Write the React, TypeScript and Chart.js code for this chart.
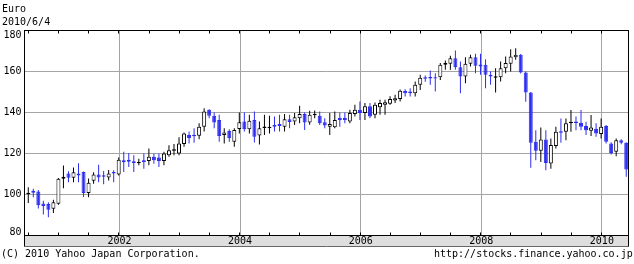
import React, { useEffect, useRef } from 'react';
import { Chart, registerables } from 'chart.js';

Chart.register(...registerables);

// ---- Data (monthly candles, EUR/JPY, June 2000 .. May 2010) ----
const firstYear = 2000;
const firstMonth = 6;

const opens = [
  100.3, 101.8, 101.5, 95.6, 95.4, 93.0, 95.5, 107.7, 110.3, 108.2,
  110.2, 111.0, 100.7, 106.7, 109.8, 109.4, 108.3, 111.0, 109.7, 116.7,
  117.0, 116.2, 115.2, 116.7, 116.4, 118.4, 118.0, 116.4, 119.2, 121.3,
  120.0, 124.6, 129.0, 129.2, 128.7, 133.1, 141.3, 138.4, 136.4, 129.0,
  131.0, 125.7, 132.0, 135.6, 131.8, 136.4, 128.8, 132.5, 132.3, 133.9,
  134.4, 133.1, 136.7, 135.6, 137.2, 139.3, 135.1, 138.6, 138.4, 135.2,
  133.1, 132.8, 137.5, 137.5, 135.6, 139.3, 141.3, 139.7, 143.0, 138.9,
  142.6, 143.8, 144.3, 145.9, 146.6, 150.5, 150.2, 149.4, 153.5, 157.2,
  157.3, 157.2, 157.2, 163.3, 163.8, 166.5, 162.1, 157.6, 163.8, 167.0,
  163.4, 163.3, 158.4, 157.0, 157.2, 161.6, 163.8, 167.0, 168.2, 159.5,
  149.7, 125.7, 121.3, 126.8, 115.1, 123.6, 130.9, 130.6, 134.7, 135.6,
  135.0, 133.4, 131.1, 132.1, 129.5, 133.4, 124.9, 120.8, 126.5, 125.2,
];
const highs = [
  103.5, 102.8, 102.2, 97.0, 96.2, 97.4, 108.0, 114.2, 111.3, 113.2,
  115.2, 111.2, 107.8, 110.8, 114.5, 111.5, 112.0, 111.8, 118.0, 120.8,
  120.3, 119.2, 117.5, 120.0, 122.5, 120.0, 120.0, 120.8, 124.0, 124.6,
  127.9, 130.2, 130.7, 132.3, 134.8, 142.1, 141.6, 140.0, 138.9, 132.3,
  131.8, 132.3, 140.0, 140.0, 138.9, 140.5, 135.6, 138.9, 138.4, 138.0,
  138.9, 139.3, 138.9, 139.7, 143.3, 140.0, 140.9, 141.0, 140.5, 137.2,
  139.7, 140.5, 140.0, 140.0, 141.3, 143.8, 145.4, 144.6, 144.6, 144.9,
  146.2, 146.2, 147.9, 148.7, 151.2, 151.3, 151.8, 155.1, 158.4, 158.0,
  160.5, 159.2, 164.1, 165.4, 167.7, 170.3, 164.9, 167.0, 168.2, 168.7,
  168.7, 166.0, 160.0, 161.6, 164.9, 167.3, 170.9, 171.4, 168.5, 160.0,
  150.0, 131.4, 132.7, 131.4, 127.3, 133.1, 137.1, 137.1, 141.2, 138.0,
  141.2, 135.5, 138.8, 134.7, 137.1, 133.9, 125.5, 127.3, 127.0, 125.5,
];
const lows = [
  95.8, 98.7, 93.2, 90.3, 88.9, 91.0, 95.0, 103.0, 106.0, 106.0,
  106.0, 98.8, 98.7, 105.2, 106.0, 105.0, 106.8, 106.0, 109.3, 111.0,
  113.4, 111.0, 114.3, 112.6, 114.3, 115.0, 113.4, 114.3, 118.4, 119.2,
  119.2, 123.3, 124.9, 125.2, 126.9, 130.7, 137.2, 132.3, 125.7, 124.9,
  125.7, 123.3, 129.8, 130.7, 129.8, 125.4, 124.4, 129.0, 129.8, 130.7,
  130.7, 130.7, 132.3, 133.9, 134.8, 131.5, 134.0, 137.2, 133.9, 132.3,
  129.0, 132.3, 133.1, 134.8, 134.8, 138.0, 136.4, 136.4, 137.2, 137.2,
  138.9, 138.9, 143.8, 144.6, 145.4, 147.8, 147.8, 147.8, 151.0, 155.0,
  153.5, 150.2, 155.9, 160.8, 160.8, 160.8, 149.4, 154.3, 162.5, 159.2,
  158.4, 151.8, 153.5, 149.7, 155.1, 159.2, 160.0, 165.7, 159.0, 145.3,
  113.1, 116.7, 115.9, 111.8, 112.6, 122.4, 125.2, 126.5, 130.6, 131.4,
  131.4, 129.0, 128.5, 128.2, 127.3, 124.9, 119.5, 118.7, 124.5, 108.6,
];
const closes = [
  100.9, 100.9, 94.7, 94.4, 92.6, 96.2, 107.7, 108.7, 108.2, 110.8,
  109.3, 100.7, 105.7, 109.8, 108.3, 108.7, 110.3, 110.2, 117.0, 115.7,
  116.0, 115.4, 115.9, 115.9, 118.4, 116.7, 116.4, 120.0, 121.6, 122.1,
  124.9, 129.8, 127.4, 128.4, 133.1, 140.5, 138.4, 135.1, 128.5, 130.2,
  127.4, 131.5, 135.2, 131.8, 136.0, 128.2, 132.3, 133.2, 133.0, 133.1,
  133.4, 136.7, 135.4, 137.7, 139.3, 135.1, 138.9, 139.3, 134.8, 133.6,
  134.4, 136.4, 136.4, 136.4, 139.7, 141.3, 139.7, 143.0, 138.0, 143.8,
  144.6, 145.0, 146.6, 147.0, 150.6, 149.4, 149.4, 153.5, 157.0, 156.5,
  156.6, 156.6, 163.3, 164.1, 166.5, 162.1, 157.6, 163.8, 167.0, 162.8,
  162.5, 158.4, 157.6, 157.7, 161.6, 164.1, 167.3, 168.2, 159.5, 149.7,
  125.2, 121.3, 126.8, 115.4, 124.1, 130.6, 130.1, 134.7, 135.5, 134.9,
  133.0, 131.4, 132.7, 129.8, 133.1, 125.7, 120.3, 126.5, 125.2, 112.2,
];

const yTickValues = [80, 100, 120, 140, 160, 180];
const yearLabels = [2002, 2004, 2006, 2008, 2010];

const titleText = 'Euro';
const dateText = '2010/6/4';
const copyrightText = '(C) 2010 Yahoo Japan Corporation.';
const sourceText = 'http://stocks.finance.yahoo.co.jp';

// month labels for each candle
const months: string[] = opens.map((_, i) => {
  const t = firstMonth - 1 + i;
  const y = firstYear + Math.floor(t / 12);
  const m = (t % 12) + 1;
  return `${y}-${String(m).padStart(2, '0')}`;
});

// ---- helpers / styles ----
const BLUE = '#2d2df0';
const GRID = '#a4a4a4';
const FONT = 'DejaVu Sans Mono';

// x axis in months since 2000-01-01; a candle sits at the last trading day of its month
const monthToX = (s: string) => {
  const [y, m] = s.split('-').map(Number);
  return (y - 2000) * 12 + m - 0.15;
};
const yearToX = (y: number) => (y - 2000) * 12;
const X_MIN = 5.1; // 2000/6/4
const X_MAX = 125.3; // 2010/6/4
const halfYearTicks: number[] = [];
for (let v = 6; v <= 120; v += 6) halfYearTicks.push(v);

const framePlugin = {
  id: 'yahooFrame',
  beforeDraw(chart: any) {
    const { ctx, chartArea: a } = chart;
    ctx.save();
    ctx.fillStyle = '#dedede';
    ctx.fillRect(a.left, a.bottom, a.right - a.left, 11);
    ctx.restore();
  },
  afterDraw(chart: any) {
    const { ctx, chartArea: a, scales } = chart;
    ctx.save();
    ctx.lineWidth = 1;
    // band bottom line
    ctx.strokeStyle = '#666';
    ctx.beginPath();
    ctx.moveTo(a.left, a.bottom + 11);
    ctx.lineTo(a.right, a.bottom + 11);
    ctx.stroke();
    // band sides
    ctx.strokeStyle = '#000';
    ctx.beginPath();
    ctx.moveTo(a.left, a.bottom);
    ctx.lineTo(a.left, a.bottom + 11);
    ctx.moveTo(a.right, a.bottom);
    ctx.lineTo(a.right, a.bottom + 11);
    ctx.stroke();
    // plot frame
    ctx.strokeRect(a.left, a.top, a.right - a.left, a.bottom - a.top);
    // half-year tick marks inside the plot, top and bottom
    ctx.beginPath();
    for (const v of halfYearTicks) {
      const px = Math.floor(scales.x.getPixelForValue(v) - 0.5) + 0.5;
      if (px <= a.left || px >= a.right) continue;
      ctx.moveTo(px, a.top);
      ctx.lineTo(px, a.top + 3);
      ctx.moveTo(px, a.bottom);
      ctx.lineTo(px, a.bottom - 3);
    }
    ctx.stroke();
    ctx.restore();
  },
};

const textStyle: React.CSSProperties = {
  position: 'absolute',
  fontFamily: FONT,
  fontSize: '10px',
  lineHeight: '10px',
  whiteSpace: 'pre',
  color: '#000',
  margin: 0,
};

export default function App() {
  const canvasRef = useRef<HTMLCanvasElement | null>(null);

  useEffect(() => {
    const canvas = canvasRef.current;
    if (!canvas) return;
    const up = months.map((_, i) => closes[i] >= opens[i]);

    const bodies = months.map((m, i) => ({
      x: monthToX(m),
      y: [Math.min(opens[i], closes[i]), Math.max(opens[i], closes[i])],
    }));
    const wicks = months.map((m, i) => ({ x: monthToX(m), y: [lows[i], highs[i]] }));

    const chart = new Chart(canvas, {
      type: 'bar',
      data: {
        datasets: [
          {
            label: 'body',
            data: bodies as any,
            backgroundColor: up.map((u) => (u ? '#ffffff' : BLUE)),
            borderColor: up.map((u) => (u ? '#000000' : BLUE)),
            borderWidth: 1,
            borderSkipped: false,
            barThickness: 4,
            grouped: false,
            inflateAmount: 0,
          } as any,
          {
            label: 'wick',
            data: wicks as any,
            backgroundColor: up.map((u) => (u ? '#000000' : BLUE)),
            borderWidth: 0,
            barThickness: 1,
            grouped: false,
            inflateAmount: 0,
          } as any,
        ],
      },
      options: {
        responsive: false,
        animation: false,
        devicePixelRatio: 1,
        events: [],
        layout: { padding: { top: 30.5, right: 5.5, left: 0, bottom: 0 } },
        plugins: {
          legend: { display: false },
          tooltip: { enabled: false },
          title: { display: false },
        },
        scales: {
          x: {
            type: 'linear',
            min: X_MIN,
            max: X_MAX,
            offset: false,
            afterFit: (s: any) => {
              s.height = 28.5;
            },
            afterBuildTicks: (s: any) => {
              s.ticks = yearLabels.map((y) => ({ value: yearToX(y) }));
            },
            grid: { color: GRID, lineWidth: 1, drawTicks: false, offset: false },
            border: { display: true, color: '#000' },
            ticks: {
              autoSkip: false,
              maxRotation: 0,
              padding: 0,
              color: '#000',
              font: { family: FONT, size: 10 },
              callback: (v: any) => String(2000 + Number(v) / 12),
            },
          } as any,
          y: {
            type: 'linear',
            min: 80,
            max: 180,
            afterFit: (s: any) => {
              s.width = 24.5;
            },
            afterBuildTicks: (s: any) => {
              s.ticks = yTickValues.map((v) => ({ value: v }));
            },
            grid: { color: GRID, lineWidth: 1, drawTicks: false },
            border: { display: true, color: '#000' },
            ticks: {
              padding: 3,
              color: '#000',
              font: (ctx: any) => {
                const v = ctx.tick ? ctx.tick.value : 0;
                return {
                  family: FONT,
                  size: 10,
                  lineHeight: v === 180 ? 0.9 : v === 80 ? 0.6 : 1.2,
                };
              },
              callback: (v: any) =>
                v === 180 ? ['', '180'] : v === 80 ? ['80', ''] : String(v),
            },
          } as any,
        },
      },
      plugins: [framePlugin],
    });

    return () => chart.destroy();
  }, []);

  return (
    <div style={{ position: 'absolute', left: 0, top: 0, width: 634, height: 264, background: '#fff' }}>
      <canvas
        ref={canvasRef}
        width={634}
        height={264}
        style={{ position: 'absolute', left: 0, top: 0, display: 'block' }}
      />
      <div style={{ ...textStyle, left: 2, top: 4 }}>{titleText}</div>
      <div style={{ ...textStyle, left: 2, top: 17 }}>{dateText}</div>
      <div style={{ ...textStyle, left: 1, top: 249 }}>{copyrightText}</div>
      <div style={{ ...textStyle, left: 434, top: 249 }}>{sourceText}</div>
    </div>
  );
}
